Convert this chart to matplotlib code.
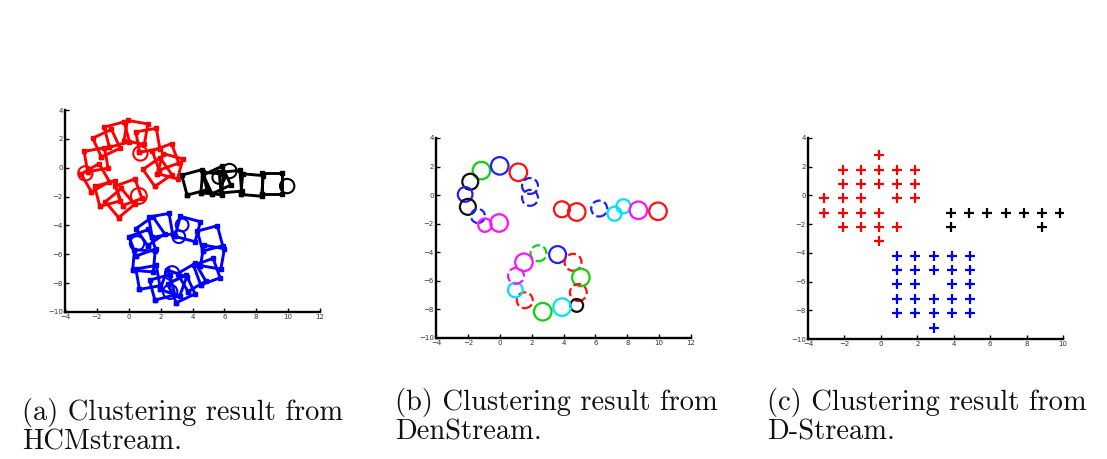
import numpy as np
import matplotlib
matplotlib.use("Agg")
import matplotlib.pyplot as plt
from matplotlib.patches import Ellipse

# --- (a) HCMstream: rotated square micro-clusters + circles ---
red_sq_x = [0.45, 1.20, 2.30, 2.60, -1.40, -2.05, -2.10, -1.35, -0.55, 0.00, -0.75, 1.80]
red_sq_y = [2.45, 1.90, 0.75, 0.10, 1.70, 0.55, -0.70, -1.80, -2.45, -1.70, 2.30, -0.30]
red_sq_ang = [-10, 10, 20, -15, 25, 10, 30, 15, 40, 20, 15, 35]
red_ci_x = [-2.72, 0.63, 0.73]
red_ci_y = [-0.39, -1.96, 0.99]
red_ci_r = [0.45, 0.50, 0.45]

blk_sq_x = [4.12, 5.23, 6.38, 7.74, 8.99, 5.54]
blk_sq_y = [-1.02, -1.09, -0.97, -1.20, -1.09, -0.85]
blk_sq_ang = [15, -5, 5, -5, 0, 25]
blk_ci_x = [6.32, 9.94, 5.65]
blk_ci_y = [-0.23, -1.27, -0.67]
blk_ci_r = [0.45, 0.45, 0.40]

blu_sq_x = [2.00, 3.70, 5.10, 5.25, 4.90, 3.95, 2.80, 2.10, 1.20, 0.95, 0.85, 1.35, 3.30]
blu_sq_y = [-4.00, -4.25, -4.90, -6.20, -7.20, -7.60, -8.00, -8.30, -7.60, -6.45, -5.20, -4.40, -8.40]
blu_sq_ang = [10, -15, 15, -10, 20, 30, -20, 15, 10, -5, 20, 35, 25]
blu_ci_x = [3.35, 3.14, 0.52, 2.72, 2.60]
blu_ci_y = [-3.97, -4.78, -5.24, -7.32, -8.60]
blu_ci_r = [0.40, 0.40, 0.45, 0.45, 0.45]

# --- (b) DenStream: potential / outlier micro-clusters ---
den_x = [-1.15, 0.00, 1.17, 1.90, 1.90, -1.85, -2.17, -2.00, -1.37, -0.93, -0.04,
         3.90, 4.83, 6.24, 7.20, 7.76, 8.70, 9.93,
         2.43, 3.63, 4.60, 5.09, 4.93, 4.83, 3.91, 2.70, 1.57, 0.98, 1.02, 1.52]
den_y = [1.72, 2.05, 1.60, 0.64, -0.19, 0.94, 0.05, -0.82, -1.46, -2.10, -1.95,
         -0.99, -1.18, -0.94, -1.30, -0.78, -1.06, -1.13,
         -4.07, -4.16, -4.70, -5.76, -6.82, -7.72, -7.84, -8.16, -7.36, -6.64, -5.65, -4.70]
den_r = [0.55, 0.55, 0.55, 0.50, 0.50, 0.50, 0.46, 0.50, 0.44, 0.42, 0.55,
         0.50, 0.55, 0.50, 0.44, 0.44, 0.55, 0.55,
         0.50, 0.53, 0.53, 0.55, 0.53, 0.40, 0.55, 0.55, 0.50, 0.46, 0.50, 0.55]
den_col = ["g", "b", "r", "b", "b", "k", "b", "k", "b", "m", "m",
           "r", "r", "b", "c", "c", "m", "r",
           "g", "b", "r", "g", "r", "k", "c", "g", "r", "c", "m", "m"]
den_dashed = [0, 0, 0, 1, 1, 0, 0, 0, 1, 0, 0,
              0, 0, 1, 0, 0, 0, 0,
              1, 0, 1, 0, 1, 0, 0, 0, 1, 0, 1, 0]

# --- (c) D-Stream: dense grid cells ---
ds_red_x = [-0.1,
            -2.1, -1.1, -0.1, 0.9, 1.9,
            -2.1, -1.1, -0.1, 0.9, 1.9,
            -3.1, -2.1, -1.1, 0.9, 1.9,
            -3.1, -2.1, -1.1, -0.1,
            -2.1, -1.1, -0.1, 0.9,
            -0.1]
ds_red_y = [2.8,
            1.8, 1.8, 1.8, 1.8, 1.8,
            0.8, 0.8, 0.8, 0.8, 0.8,
            -0.2, -0.2, -0.2, -0.2, -0.2,
            -1.2, -1.2, -1.2, -1.2,
            -2.2, -2.2, -2.2, -2.2,
            -3.2]
ds_blk_x = [3.85, 4.85, 5.85, 6.85, 7.85, 8.85, 9.85, 3.85, 8.85]
ds_blk_y = [-1.2, -1.2, -1.2, -1.2, -1.2, -1.2, -1.2, -2.2, -2.2]
ds_blu_x = [0.9, 1.9, 2.9, 3.9, 4.9,
            0.9, 1.9, 2.9, 3.9, 4.9,
            0.9, 1.9, 3.9, 4.9,
            0.9, 1.9, 2.9, 3.9, 4.9,
            0.9, 1.9, 2.9, 3.9, 4.9,
            2.9]
ds_blu_y = [-4.2, -4.2, -4.2, -4.2, -4.2,
            -5.2, -5.2, -5.2, -5.2, -5.2,
            -6.2, -6.2, -6.2, -6.2,
            -7.2, -7.2, -7.2, -7.2, -7.2,
            -8.2, -8.2, -8.2, -8.2, -8.2,
            -9.2]

captions = [("(a) Clustering result from", "HCMstream."),
            ("(b) Clustering result from", "DenStream."),
            ("(c) Clustering result from", "D-Stream.")]

W, H = 1107, 459
fig = plt.figure(figsize=(W / 100, H / 100), dpi=100, facecolor="white")

# axes boxes in pixels: left, top, right, bottom
boxes = [(65, 110, 320, 312), (436, 138, 691, 338), (808, 138, 1063, 339)]
xlims = [(-4, 12), (-4, 12), (-4, 10)]


def make_axes(box, xlim):
    l, t, r, b = box
    ax = fig.add_axes([l / W, 1 - b / H, (r - l) / W, (b - t) / H])
    ax.set_xlim(*xlim)
    ax.set_ylim(-10, 4)
    ax.set_xticks(np.arange(xlim[0], xlim[1] + 1, 2))
    ax.set_yticks(np.arange(-10, 5, 2))
    ax.spines["top"].set_visible(False)
    ax.spines["right"].set_visible(False)
    ax.spines["left"].set_linewidth(1.7)
    ax.spines["bottom"].set_linewidth(1.7)
    ax.tick_params(direction="in", length=3, width=1, labelsize=5,
                   labelcolor="#333333", pad=1.5)
    ax.set_facecolor("white")
    return ax


def yscale(ax, box):
    # data-y per data-x for equal pixel length
    l, t, r, b = box
    px_x = (r - l) / (ax.get_xlim()[1] - ax.get_xlim()[0])
    px_y = (b - t) / (ax.get_ylim()[1] - ax.get_ylim()[0])
    return px_x / px_y


def draw_squares(ax, xs, ys, angs, color, k, side=1.3):
    h = side / 2
    base = np.array([[-h, -h], [h, -h], [h, h], [-h, h], [-h, -h]])
    for cx, cy, a in zip(xs, ys, angs):
        th = np.deg2rad(a)
        rot = np.array([[np.cos(th), -np.sin(th)], [np.sin(th), np.cos(th)]])
        pts = base @ rot.T
        ax.plot(cx + pts[:, 0], cy + pts[:, 1] * k, "-", color=color, lw=2.1,
                marker="s", ms=3.5, mfc=color, mec=color)


def draw_circles(ax, xs, ys, rs, colors, k, dashed=None, lw=1.3):
    for i, (cx, cy, r) in enumerate(zip(xs, ys, rs)):
        ls = "--" if dashed is not None and dashed[i] else "-"
        c = colors[i] if isinstance(colors, list) else colors
        ax.add_patch(Ellipse((cx, cy), 2 * r, 2 * r * k, fill=False,
                             edgecolor=c, lw=lw, linestyle=ls))


# panel a
ax = make_axes(boxes[0], xlims[0])
k = yscale(ax, boxes[0])
draw_squares(ax, red_sq_x, red_sq_y, red_sq_ang, "#ff0000", k)
draw_circles(ax, red_ci_x, red_ci_y, red_ci_r, "#ff0000", k, lw=1.5)
draw_squares(ax, blk_sq_x, blk_sq_y, blk_sq_ang, "#000000", k)
draw_circles(ax, blk_ci_x, blk_ci_y, blk_ci_r, "#000000", k, lw=1.5)
draw_squares(ax, blu_sq_x, blu_sq_y, blu_sq_ang, "#0000ff", k)
draw_circles(ax, blu_ci_x, blu_ci_y, blu_ci_r, "#0000ff", k, lw=1.5)

# panel b
cmap = {"r": "#ff1010", "g": "#10d010", "b": "#2020ff", "k": "#111111",
        "c": "#00e0ff", "m": "#ff10ff"}
ax = make_axes(boxes[1], xlims[1])
k = yscale(ax, boxes[1])
draw_circles(ax, den_x, den_y, den_r, [cmap[c] for c in den_col], k,
             dashed=den_dashed, lw=1.6)

# panel c
ax = make_axes(boxes[2], xlims[2])
for xs, ys, c in [(ds_red_x, ds_red_y, "#ff0000"),
                  (ds_blk_x, ds_blk_y, "#000000"),
                  (ds_blu_x, ds_blu_y, "#0000ff")]:
    ax.plot(xs, ys, "+", color=c, ms=6.5, mew=1.6, linestyle="none")

# captions
cap_pos = [(22, 420), (395, 410), (767, 410)]
for (x0, base), (l1, l2) in zip(cap_pos, captions):
    fig.text(x0 / W, 1 - base / H, l1, family="cmr10", fontsize=20.5,
             ha="left", va="baseline", color="#111111")
    fig.text(x0 / W, 1 - (base + 30) / H, l2, family="cmr10", fontsize=20.5,
             ha="left", va="baseline", color="#111111")

fig.savefig("out.png", dpi=100, facecolor="white")
